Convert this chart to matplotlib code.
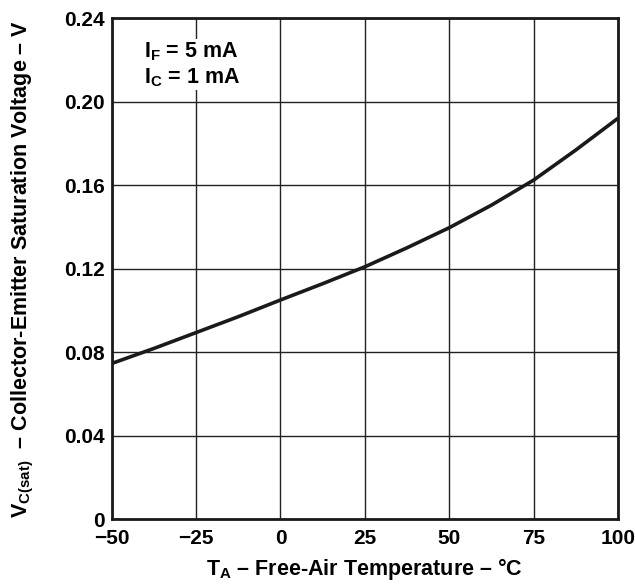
"""V_CE(sat) vs free-air temperature, datasheet style."""
import matplotlib
matplotlib.use("Agg")
import matplotlib.pyplot as plt

plt.rcParams.update({
    "font.family": "Liberation Sans",
    "font.weight": "bold",
    "axes.labelweight": "bold",
    "mathtext.fontset": "custom",
    "mathtext.rm": "Liberation Sans:bold",
    "mathtext.it": "Liberation Sans:bold",
    "mathtext.bf": "Liberation Sans:bold",
    "mathtext.default": "rm",
    "axes.unicode_minus": True,
})

# curve
temp_c = [-50, -37.5, -25, -12.5, 0, 12.5, 25, 37.5, 50, 62.5, 75, 87.5, 100]
vce_sat = [0.0746, 0.0818, 0.0894, 0.0970, 0.1050, 0.1128, 0.1209, 0.1300,
           0.1396, 0.1504, 0.1624, 0.1768, 0.1920]

x_ticks = [-50, -25, 0, 25, 50, 75, 100]
y_ticks = [0, 0.04, 0.08, 0.12, 0.16, 0.20, 0.24]
y_labels = ["0", "0.04", "0.08", "0.12", "0.16", "0.20", "0.24"]

fig = plt.figure(figsize=(6.35, 5.86), dpi=100)
ax = fig.add_axes([0.176, 0.114, 0.797, 0.855])

ax.plot(temp_c, vce_sat, color="#1a1a1a", linewidth=2.6, solid_capstyle="butt")

ax.set_xlim(-50, 100)
ax.set_ylim(0, 0.24)
ax.set_xticks(x_ticks)
ax.set_xticklabels([f"{t}".replace("-", "\u2212") for t in x_ticks])
ax.set_yticks(y_ticks)
ax.set_yticklabels(y_labels)
ax.tick_params(length=0, labelsize=15)
ax.tick_params(axis="x", pad=7)
ax.tick_params(axis="y", pad=5)
ax.grid(True, color="#222222", linewidth=1.0)
ax.set_axisbelow(True)
for s in ax.spines.values():
    s.set_linewidth(2.0)
    s.set_color("#1a1a1a")

ax.set_xlabel("T$_\\mathregular{A}$ \u2013 Free-Air Temperature \u2013 \u00b0C",
              fontsize=15.5, labelpad=6)
ax.set_ylabel("V$_\\mathregular{C(sat)}$  \u2013 Collector-Emitter Saturation Voltage \u2013 V",
              fontsize=15.5, labelpad=20)

ax.text(-40.5, 0.2295, "I$_\\mathregular{F}$ = 5 mA\nI$_\\mathregular{C}$ = 1 mA",
        fontsize=15.5, va="top", ha="left", linespacing=1.2,
        bbox=dict(facecolor="white", edgecolor="none", pad=1))

fig.savefig("out.png", dpi=100)
